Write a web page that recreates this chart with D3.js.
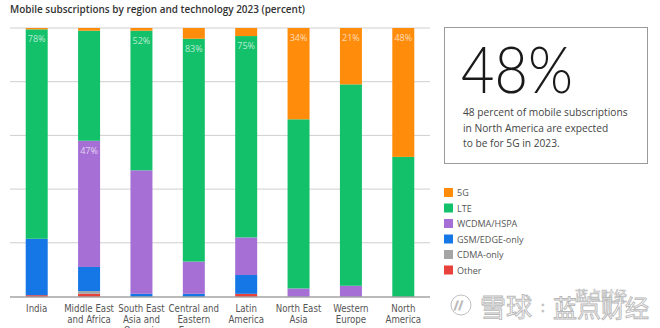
<!DOCTYPE html>
<html>
<head>
<meta charset="utf-8">
<script src="https://cdn.jsdelivr.net/npm/d3@7"></script>
<style>
  body { margin: 0; background: #fff; }
  svg { display: block; font-family: "Open Sans", "Noto Sans", sans-serif; }
</style>
</head>
<body>
<div id="chart"></div>
<script>
// data
const regions = [
  ["India"],
  ["Middle East", "and Africa"],
  ["South East", "Asia and", "Oceania"],
  ["Central and", "Eastern", "Europe"],
  ["Latin", "America"],
  ["North East", "Asia"],
  ["Western", "Europe"],
  ["North", "America"]
];
const technologies = ["5G", "LTE", "WCDMA/HSPA", "GSM/EDGE-only", "CDMA-only", "Other"];
const techColors = ["#ff8c0a", "#13c16b", "#a66fd6", "#1577e6", "#a5a5a5", "#e8403a"];

// percent per region, same order as regions
const share5G    = [0.5, 1,  1,  4,  3,  34, 21, 48];
const shareLTE   = [78,  41, 52, 83, 75, 63, 75, 52];
const shareWCDMA = [0,   47, 46, 12, 14, 3,  4,  0];
const shareGSM   = [21,  9,  1,  1,  7,  0,  0,  0];
const shareCDMA  = [0,   1,  0,  0,  0,  0,  0,  0];
const shareOther = [0.5, 1,  0,  0,  1,  0,  0,  0];

// which segments carry a value label: [regionIndex, techIndex]
const labelled = [[0, 1], [1, 2], [2, 1], [3, 1], [4, 1], [5, 0], [6, 0], [7, 0]];
const yTicks = [0, 20, 40, 60, 80, 100];

const W = 660, H = 328;
const narrow = "'Liberation Sans Narrow', 'DejaVu Sans Condensed', 'Roboto Condensed', sans-serif";
const svg = d3.select("#chart").append("svg").attr("width", W).attr("height", H);

svg.append("text")
  .attr("x", 10).attr("y", 13)
  .attr("font-size", 11.2).attr("font-weight", 600).attr("fill", "#333")
  .attr("textLength", 295).attr("lengthAdjust", "spacingAndGlyphs")
  .text("Mobile subscriptions by region and technology 2023 (percent)");

const x = d3.scaleBand().domain(d3.range(regions.length)).range([10, 430]).paddingInner(0.58).paddingOuter(0.3);
const y = d3.scaleLinear().domain([0, 100]).range([296.5, 28]);

// gridlines
svg.append("g").selectAll("line").data(yTicks.slice(1)).join("line")
  .attr("x1", 10).attr("x2", 430)
  .attr("y1", d => y(d)).attr("y2", d => y(d))
  .attr("stroke", "#cfcfcf").attr("stroke-width", 1);

const rows = regions.map((r, i) => {
  const o = { i: i };
  [share5G, shareLTE, shareWCDMA, shareGSM, shareCDMA, shareOther].forEach((s, k) => o[technologies[k]] = s[i]);
  return o;
});
// stack from bottom: Other first, 5G last (on top)
const stackKeys = technologies.slice().reverse();
const series = d3.stack().keys(stackKeys)(rows);

svg.append("g").selectAll("g").data(series).join("g")
  .attr("fill", d => techColors[technologies.indexOf(d.key)])
  .selectAll("rect").data(d => d).join("rect")
  .attr("x", d => x(d.data.i))
  .attr("width", x.bandwidth())
  .attr("y", d => y(d[1]))
  .attr("height", d => Math.max(0, y(d[0]) - y(d[1])));

// value labels near the top of a segment
labelled.forEach(([ri, ti]) => {
  const s = series.find(d => d.key === technologies[ti]);
  const seg = s[ri];
  svg.append("text")
    .attr("x", x(ri) + x.bandwidth() / 2)
    .attr("y", y(seg[1]) + 13)
    .attr("text-anchor", "middle")
    .attr("font-size", 9)
    .attr("fill", "#fff").attr("fill-opacity", 0.7)
    .text(Math.round(seg[1] - seg[0]) + "%");
});

// baseline
svg.append("line")
  .attr("x1", 10).attr("x2", 430).attr("y1", y(0) + 0.5).attr("y2", y(0) + 0.5)
  .attr("stroke", "#777").attr("stroke-width", 1.2);

// category labels
const xl = svg.append("g").selectAll("text").data(regions).join("text")
  .attr("x", (d, i) => x(i) + x.bandwidth() / 2)
  .attr("y", 312)
  .attr("text-anchor", "middle")
  .attr("font-family", narrow)
  .attr("font-size", 9.6).attr("fill", "#555");
xl.selectAll("tspan").data(d => d).join("tspan")
  .attr("x", function () { return this.parentNode.getAttribute("x"); })
  .attr("dy", (d, j) => j === 0 ? 0 : 11)
  .text(d => d);

// callout box
svg.append("rect")
  .attr("x", 444.5).attr("y", 27.5).attr("width", 203).attr("height", 136)
  .attr("fill", "#fff").attr("stroke", "#9a9a9a").attr("stroke-width", 1);
svg.append("text")
  .attr("x", 461).attr("y", 93)
  .attr("font-size", 65).attr("font-weight", 300).attr("fill", "#1a1a1a")
  .attr("font-family", "Lato, 'Open Sans', sans-serif")
  .attr("textLength", 112).attr("lengthAdjust", "spacingAndGlyphs")
  .text("48%");
const calloutLines = ["48 percent of mobile subscriptions", "in North America are expected", "to be for 5G in 2023."];
svg.append("g").selectAll("text").data(calloutLines).join("text")
  .attr("x", 463).attr("y", (d, i) => 116 + i * 15.5)
  .attr("font-size", 10.2).attr("fill", "#444")
  .text(d => d);

// legend
const lg = svg.append("g").selectAll("g").data(technologies).join("g")
  .attr("transform", (d, i) => `translate(444, ${188 + i * 15.5})`);
lg.append("rect").attr("width", 9).attr("height", 9).attr("fill", (d, i) => techColors[i]);
lg.append("text").attr("x", 13).attr("y", 8).attr("font-size", 9).attr("fill", "#555").text(d => d);

// watermark
const wm = svg.append("g").attr("fill", "#fff").attr("stroke", "#b8b8b8").attr("stroke-width", 0.9);
wm.append("circle").attr("cx", 461).attr("cy", 305).attr("r", 10).attr("fill", "none");
wm.append("text").attr("x", 454).attr("y", 310).attr("font-size", 12).attr("fill", "none").text("//");
wm.append("text").attr("x", 480).attr("y", 317)
  .attr("font-size", 26).attr("font-family", "'Noto Sans CJK SC', sans-serif").text("雪球");
wm.append("text").attr("x", 541).attr("y", 312).attr("font-size", 14).text(":");
wm.append("text").attr("x", 575).attr("y", 300).attr("stroke-width", 0.6)
  .attr("font-size", 13).attr("font-family", "'Noto Sans CJK SC', sans-serif").text("蓝点财经");
wm.append("text").attr("x", 553).attr("y", 317)
  .attr("font-size", 24).attr("font-family", "'Noto Sans CJK SC', sans-serif").text("蓝点财经");
</script>
</body>
</html>
